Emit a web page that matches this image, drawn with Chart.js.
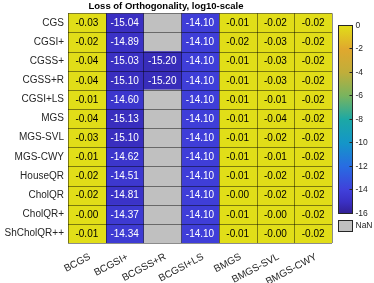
<!DOCTYPE html>
<html>
<head>
<meta charset="utf-8">
<script src="https://cdn.jsdelivr.net/npm/chart.js@4/dist/chart.umd.min.js"></script>
<style>
  html, body { margin: 0; padding: 0; background: #fff; }
</style>
</head>
<body>
<canvas id="heat" width="374" height="283"></canvas>
<script>
// rows / columns of the heatmap
const rowNames = ["CGS", "CGSI+", "CGSS+", "CGSS+R", "CGSI+LS", "MGS", "MGS-SVL", "MGS-CWY", "HouseQR", "CholQR", "CholQR+", "ShCholQR++"];
const colNames = ["BCGS", "BCGSI+", "BCGSS+R", "BCGSI+LS", "BMGS", "BMGS-SVL", "BMGS-CWY"];

// log10 loss of orthogonality per column (null = NaN)
const bcgs     = [-0.03, -0.02, -0.04, -0.04, -0.01, -0.04, -0.03, -0.01, -0.02, -0.02, -0.004, -0.01];
const bcgsiP   = [-15.04, -14.89, -15.03, -15.10, -14.60, -15.13, -15.10, -14.62, -14.51, -14.81, -14.37, -14.34];
const bcgssR   = [null, null, -15.20, -15.20, null, null, null, null, null, null, null, null];
const bcgsiLS  = [-14.10, -14.10, -14.10, -14.10, -14.10, -14.10, -14.10, -14.10, -14.10, -14.10, -14.10, -14.10];
const bmgs     = [-0.01, -0.02, -0.01, -0.01, -0.01, -0.01, -0.01, -0.01, -0.01, -0.004, -0.01, -0.01];
const bmgsSVL  = [-0.02, -0.03, -0.03, -0.03, -0.01, -0.04, -0.02, -0.01, -0.02, -0.02, -0.004, -0.004];
const bmgsCWY  = [-0.02, -0.02, -0.02, -0.02, -0.02, -0.02, -0.02, -0.02, -0.02, -0.02, -0.02, -0.02];
const columns = [bcgs, bcgsiP, bcgssR, bcgsiLS, bmgs, bmgsSVL, bmgsCWY];

// colour bar
const cbTicks = [0, -2, -4, -6, -8, -10, -12, -14, -16];
const cbMin = -16, cbMax = 0;
const cbAxisMin = -17.6; // leaves room under the bar for the NaN box

const nanColor = "rgb(192,192,192)";
const cmapStops = [
  [0, [50, 32, 148]], [0.0625, [58, 48, 196]], [0.125, [64, 64, 218]],
  [0.25, [40, 108, 226]], [0.375, [20, 150, 200]], [0.5, [28, 168, 165]],
  [0.625, [120, 180, 95]], [0.75, [192, 174, 58]], [0.875, [224, 168, 46]],
  [1, [225, 222, 24]]
];

function cmap(t) {
  t = Math.max(0, Math.min(1, t));
  for (let i = 1; i < cmapStops.length; i++) {
    const [t1, c1] = cmapStops[i];
    const [t0, c0] = cmapStops[i - 1];
    if (t <= t1) {
      const f = (t - t0) / (t1 - t0);
      const c = c0.map((v, k) => Math.round(v + (c1[k] - v) * f));
      return `rgb(${c[0]},${c[1]},${c[2]})`;
    }
  }
  return "rgb(225,222,24)";
}
const norm = v => (v - cbMin) / (cbMax - cbMin);

const FONT = '"Liberation Sans", Arial, Helvetica, sans-serif';
Chart.defaults.font.family = FONT;
Chart.defaults.color = "#262626";

const datasets = columns.map((vals, c) => ({
  label: colNames[c],
  data: vals.map(() => [c, c + 1]),
  values: vals,
  backgroundColor: vals.map(v => v === null ? nanColor : cmap(norm(v))),
  borderWidth: 0,
  grouped: false,
  barPercentage: 1,
  categoryPercentage: 1
}));

// cell text + cell grid + colour bar
const cellPlugin = {
  id: "cells",
  afterDatasetsDraw(chart) {
    const ctx = chart.ctx;
    const xs = chart.scales.x, ys = chart.scales.y;
    const area = chart.chartArea;
    ctx.save();
    ctx.font = "10px " + FONT;
    ctx.textAlign = "center";
    ctx.textBaseline = "middle";
    chart.data.datasets.forEach((ds, di) => {
      chart.getDatasetMeta(di).data.forEach((bar, i) => {
        const v = ds.values[i];
        if (v === null) return;
        ctx.fillStyle = norm(v) < 0.5 ? "#ffffff" : "#000000";
        ctx.fillText(v.toFixed(2), (bar.x + bar.base) / 2, bar.y + 0.5);
      });
    });
    ctx.strokeStyle = "rgba(0,0,0,0.45)";
    ctx.lineWidth = 1;
    ctx.beginPath();
    for (let c = 0; c <= colNames.length; c++) {
      const px = Math.round(xs.getPixelForValue(c)) + 0.5;
      ctx.moveTo(px, area.top);
      ctx.lineTo(px, area.bottom);
    }
    for (let r = 0; r <= rowNames.length; r++) {
      const py = Math.round(ys.getPixelForValue(r - 0.5)) + 0.5;
      ctx.moveTo(area.left, py);
      ctx.lineTo(area.right, py);
    }
    ctx.stroke();
    ctx.restore();
  },
  afterDraw(chart) {
    const ctx = chart.ctx;
    const cb = chart.scales.cb;
    const x0 = Math.round(chart.chartArea.right) + 6.5, w = 14;
    const yTop = Math.round(cb.getPixelForValue(cbMax)) + 0.5;
    const yBot = Math.round(cb.getPixelForValue(cbMin)) + 0.5;
    ctx.save();
    const g = ctx.createLinearGradient(0, yBot, 0, yTop);
    cmapStops.forEach(([t]) => g.addColorStop(t, cmap(t)));
    ctx.fillStyle = g;
    ctx.fillRect(x0, yTop, w, yBot - yTop);
    ctx.strokeStyle = "#262626";
    ctx.lineWidth = 1;
    ctx.strokeRect(x0, yTop, w, yBot - yTop);
    ctx.font = "8.5px " + FONT;
    ctx.fillStyle = "#262626";
    ctx.textAlign = "left";
    ctx.textBaseline = "middle";
    ctx.beginPath();
    cbTicks.forEach(v => {
      const y = Math.round(cb.getPixelForValue(v)) + 0.5;
      ctx.moveTo(x0 + w - 3, y);
      ctx.lineTo(x0 + w, y);
      ctx.fillText(String(v), x0 + w + 3, y);
    });
    ctx.stroke();
    // NaN swatch
    const nTop = Math.round(cb.getPixelForValue(-16.6)) + 0.5;
    const nBot = Math.round(cb.getPixelForValue(cbAxisMin)) - 0.5;
    ctx.fillStyle = nanColor;
    ctx.fillRect(x0, nTop, w, nBot - nTop);
    ctx.strokeRect(x0, nTop, w, nBot - nTop);
    ctx.fillStyle = "#262626";
    ctx.fillText("NaN", x0 + w + 3, (nTop + nBot) / 2);
    ctx.restore();
  }
};

new Chart(document.getElementById("heat").getContext("2d"), {
  type: "bar",
  data: { labels: rowNames, datasets: datasets },
  plugins: [cellPlugin],
  options: {
    indexAxis: "y",
    responsive: false,
    animation: false,
    layout: { padding: { top: 0, right: 42, bottom: 0, left: 0 } },
    plugins: {
      legend: { display: false },
      tooltip: { enabled: false },
      title: {
        display: true,
        text: "Loss of Orthogonality, log10-scale",
        color: "#000",
        font: { size: 9.5, weight: "bold", lineHeight: 1.4 },
        padding: { top: 0, bottom: 0 }
      }
    },
    scales: {
      x: {
        type: "linear",
        min: 0,
        max: colNames.length,
        grid: { display: false, drawTicks: false },
        border: { display: false },
        afterBuildTicks: s => { s.ticks = colNames.map((n, i) => ({ value: i + 0.5 })); },
        ticks: {
          autoSkip: false,
          minRotation: 28,
          maxRotation: 28,
          padding: 8,
          labelOffset: 3,
          font: { size: 10 },
          callback: (v, i) => colNames[i]
        },
        afterFit: s => { s.height = 40; }
      },
      y: {
        type: "category",
        grid: { display: false, drawTicks: false },
        border: { display: false },
        ticks: { padding: 4, font: { size: 10 } },
        afterFit: s => { s.width = 68; }
      },
      cb: {
        type: "linear",
        axis: "y",
        position: "right",
        display: false,
        min: cbAxisMin,
        max: cbMax
      }
    }
  }
});
</script>
</body>
</html>
